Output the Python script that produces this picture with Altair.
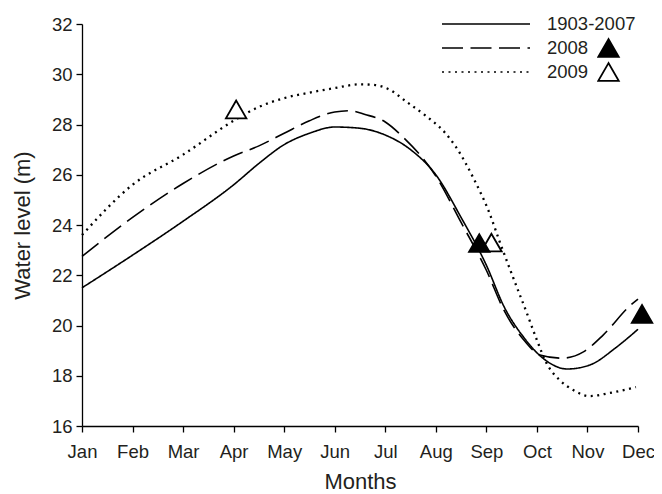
import altair as alt
import pandas as pd

months = ["Jan", "Feb", "Mar", "Apr", "May", "Jun", "Jul", "Aug", "Sep", "Oct", "Nov", "Dec"]
series_names = ["1903-2007", "2008", "2009"]

# 1903-2007 (solid)
solid_x = [0, 1, 2, 3, 3.5, 4, 4.5, 5, 5.5, 6, 6.5, 7, 7.5, 8, 8.35, 8.75, 9.15, 9.6, 10.05, 10.55, 11]
solid_y = [21.5, 22.8, 24.15, 25.6, 26.45, 27.2, 27.65, 27.9, 27.85, 27.58, 27.0, 26.0, 24.3, 22.4, 20.75, 19.5, 18.65, 18.27, 18.43, 19.1, 19.85]

# 2008 (dashed)
dash_x = [0, 1, 2, 3, 3.5, 4, 4.5, 5, 5.3, 5.6, 6, 6.35, 7, 7.5, 8, 8.35, 8.75, 9.06, 9.5, 9.92, 10.31, 10.86, 11]
dash_y = [22.75, 24.3, 25.65, 26.75, 27.15, 27.65, 28.15, 28.5, 28.55, 28.4, 28.1, 27.5, 25.95, 24.1, 22.2, 20.6, 19.4, 18.83, 18.7, 18.95, 19.62, 20.82, 21.05]

# 2009 (dotted)
dot_x = [0, 1, 2, 3, 3.5, 4, 4.5, 5, 5.5, 5.8, 6.05, 6.45, 6.78, 7.17, 7.4, 7.76, 8.06, 8.27, 8.55, 8.8, 9.0, 9.19, 9.45, 9.72, 10.04, 10.43, 10.96]
dot_y = [23.6, 25.6, 26.8, 28.15, 28.7, 29.05, 29.27, 29.45, 29.6, 29.57, 29.42, 28.86, 28.38, 27.7, 27.1, 25.8, 24.48, 23.3, 21.8, 20.5, 19.42, 18.5, 17.83, 17.43, 17.19, 17.31, 17.55]

# triangle markers (2009 open drawn first, 2008 filled on top)
marker_year = ["2009", "2009", "2008", "2008"]
marker_x = [3.05, 8.1, 7.86, 11.08]
marker_y = [28.6, 23.3, 23.28, 20.46]

rows = []
for name, xs, ys in zip(series_names, [solid_x, dash_x, dot_x], [solid_y, dash_y, dot_y]):
    for x, y in zip(xs, ys):
        rows.append({"series": name, "month": x, "level": y})
lines_df = pd.DataFrame(rows)
markers_df = pd.DataFrame({"year": marker_year, "month": marker_x, "level": marker_y})

FONT = "Liberation Sans"
TXT = "#231f20"

label_expr = "[" + ",".join("'%s'" % m for m in months) + "][datum.value]"

x_enc = alt.X(
    "month:Q",
    scale=alt.Scale(domain=[0, 11], nice=False, zero=False),
    axis=alt.Axis(values=list(range(12)), labelExpr=label_expr, title="Months",
                  tickSize=6, labelPadding=10, titlePadding=11, labelFlush=False),
)
y_enc = alt.Y(
    "level:Q",
    scale=alt.Scale(domain=[16, 32], nice=False, zero=False),
    axis=alt.Axis(values=list(range(16, 33, 2)), title="Water level (m)",
                  tickSize=6, labelPadding=4, titlePadding=17),
)

dash_scale = alt.Scale(domain=series_names, range=[[1, 0], [21, 7.5], [2, 4.5]])
line_legend = alt.Legend(
    title=None, orient="none", legendX=359, legendY=-12,
    symbolType="stroke", symbolSize=7744, symbolStrokeWidth=1.7,
    symbolStrokeColor="black", labelFontSize=18.5, labelFont=FONT, labelColor=TXT,
    labelOffset=16, clipHeight=24, rowPadding=0, padding=0,
)

base = alt.Chart(lines_df)


def line_layer(name, width):
    return base.transform_filter(alt.datum.series == name).mark_line(
        interpolate="monotone", color="black", strokeWidth=width
    ).encode(
        x=x_enc, y=y_enc,
        strokeDash=alt.StrokeDash("series:N", scale=dash_scale, legend=line_legend),
    )


tri_legend = alt.Legend(
    title=None, orient="none", legendX=515, legendY=12,
    symbolType="triangle-up", symbolSize=420, symbolStrokeColor="black",
    symbolStrokeWidth=1.8, labelExpr="''", labelFontSize=18,
    clipHeight=24, rowPadding=0, padding=0,
)

tri = alt.Chart(markers_df).mark_point(
    shape="triangle-up", size=420, filled=True, stroke="black", strokeWidth=1.8, opacity=1
).encode(
    x=x_enc, y=y_enc,
    fill=alt.Fill("year:N", scale=alt.Scale(domain=["2008", "2009"], range=["black", "white"]),
                  legend=tri_legend),
)

chart = alt.layer(
    line_layer("1903-2007", 1.6),
    line_layer("2008", 1.6),
    line_layer("2009", 2.3),
    tri,
).properties(
    width=556, height=402,
    autosize=alt.AutoSizeParams(type="none"),
    padding={"left": 74, "top": 16, "right": 16, "bottom": 68},
).configure_view(
    strokeWidth=0
).configure_axis(
    grid=False, domainColor="black", domainWidth=1.3, tickColor="black", tickWidth=1.3,
    labelFont=FONT, labelFontSize=18.5, labelColor=TXT,
    titleFont=FONT, titleFontSize=22, titleFontWeight="normal", titleColor=TXT,
)

chart.save("out.html", embed_options={"renderer": "svg", "actions": False})
